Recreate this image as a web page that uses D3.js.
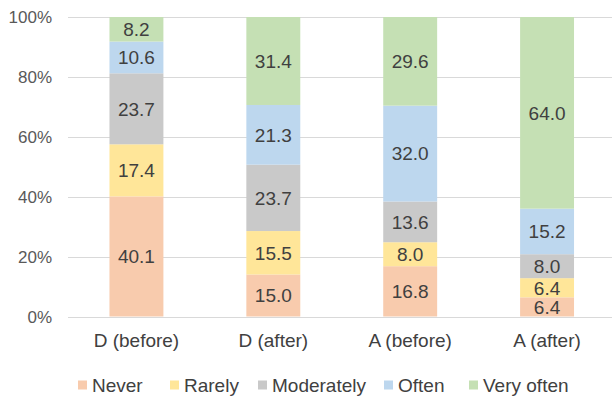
<!DOCTYPE html>
<html>
<head>
<meta charset="utf-8">
<script src="https://cdn.jsdelivr.net/npm/d3@7"></script>
<style>
  html, body { margin: 0; padding: 0; background: #fff; }
  svg { display: block; font-family: "Liberation Sans", Arial, sans-serif; }
</style>
</head>
<body>
<svg id="chart" width="612" height="397"></svg>
<script>
// Survey groups and answer frequencies (raw values, shown as labels)
const categories = ["D (before)", "D (after)", "A (before)", "A (after)"];
const seriesNames = ["Never", "Rarely", "Moderately", "Often", "Very often"];
const never      = [40.1, 15.0, 16.8, 6.4];
const rarely     = [17.4, 15.5, 8.0, 6.4];
const moderately = [23.7, 23.7, 13.6, 8.0];
const often      = [10.6, 21.3, 32.0, 15.2];
const veryOften  = [8.2, 31.4, 29.6, 64.0];
const yTicks = [0, 0.2, 0.4, 0.6, 0.8, 1.0];
const colors = ["#F8CBAD", "#FFE699", "#C9C9C9", "#BDD7EE", "#C5E0B4"];

const seriesValues = [never, rarely, moderately, often, veryOften];
const rows = categories.map((c, i) => {
  const r = { category: c };
  seriesNames.forEach((s, j) => { r[s] = seriesValues[j][i]; });
  return r;
});

const svg = d3.select("#chart");
const plot = { left: 68, right: 615.5, top: 17, bottom: 316.5 };

const x = d3.scaleBand()
  .domain(categories)
  .range([plot.left, plot.right])
  .paddingInner(0.606)
  .paddingOuter(0.303);

const y = d3.scaleLinear().domain([0, 1]).range([plot.bottom, plot.top]);

const stack = d3.stack().keys(seriesNames).offset(d3.stackOffsetExpand);
const layers = stack(rows);

// Horizontal gridlines
svg.append("g")
  .selectAll("line")
  .data(yTicks)
  .join("line")
  .attr("x1", plot.left)
  .attr("x2", 612)
  .attr("y1", d => Math.round(y(d)) + 0.5)
  .attr("y2", d => Math.round(y(d)) + 0.5)
  .attr("stroke", "#D9D9D9")
  .attr("stroke-width", 1);

// Y axis tick labels
svg.append("g")
  .selectAll("text")
  .data(yTicks)
  .join("text")
  .attr("x", 52)
  .attr("y", d => y(d))
  .attr("dy", "0.36em")
  .attr("text-anchor", "end")
  .attr("font-size", 17)
  .attr("fill", "#595959")
  .text(d3.format(".0%"));

// Stacked bars
const groups = svg.append("g")
  .selectAll("g")
  .data(layers)
  .join("g")
  .attr("fill", (d, i) => colors[i]);

groups.selectAll("rect")
  .data(d => d.map(p => ({ p, key: d.key })))
  .join("rect")
  .attr("x", d => x(d.p.data.category))
  .attr("width", x.bandwidth())
  .attr("y", d => y(d.p[1]))
  .attr("height", d => y(d.p[0]) - y(d.p[1]));

// Value labels centred in each segment
groups.selectAll("text")
  .data(d => d.map(p => ({ p, key: d.key })))
  .join("text")
  .attr("x", d => x(d.p.data.category) + x.bandwidth() / 2)
  .attr("y", d => (y(d.p[0]) + y(d.p[1])) / 2)
  .attr("dy", "0.36em")
  .attr("text-anchor", "middle")
  .attr("font-size", 19)
  .attr("fill", "#404040")
  .text(d => d.p.data[d.key].toFixed(1));

// Category labels
svg.append("g")
  .selectAll("text")
  .data(categories)
  .join("text")
  .attr("x", d => x(d) + x.bandwidth() / 2)
  .attr("y", 340)
  .attr("dy", "0.36em")
  .attr("text-anchor", "middle")
  .attr("font-size", 19)
  .attr("fill", "#404040")
  .text(d => d);

// Legend
const legendX = [78, 170, 258, 384, 469];
const legend = svg.append("g")
  .selectAll("g")
  .data(seriesNames)
  .join("g")
  .attr("transform", (d, i) => `translate(${legendX[i]},385)`);

legend.append("rect")
  .attr("x", 0)
  .attr("y", -4.5)
  .attr("width", 9)
  .attr("height", 9)
  .attr("fill", (d, i) => colors[i]);

legend.append("text")
  .attr("x", 14)
  .attr("y", 0)
  .attr("dy", "0.36em")
  .attr("font-size", 19)
  .attr("fill", "#404040")
  .text(d => d);
</script>
</body>
</html>
